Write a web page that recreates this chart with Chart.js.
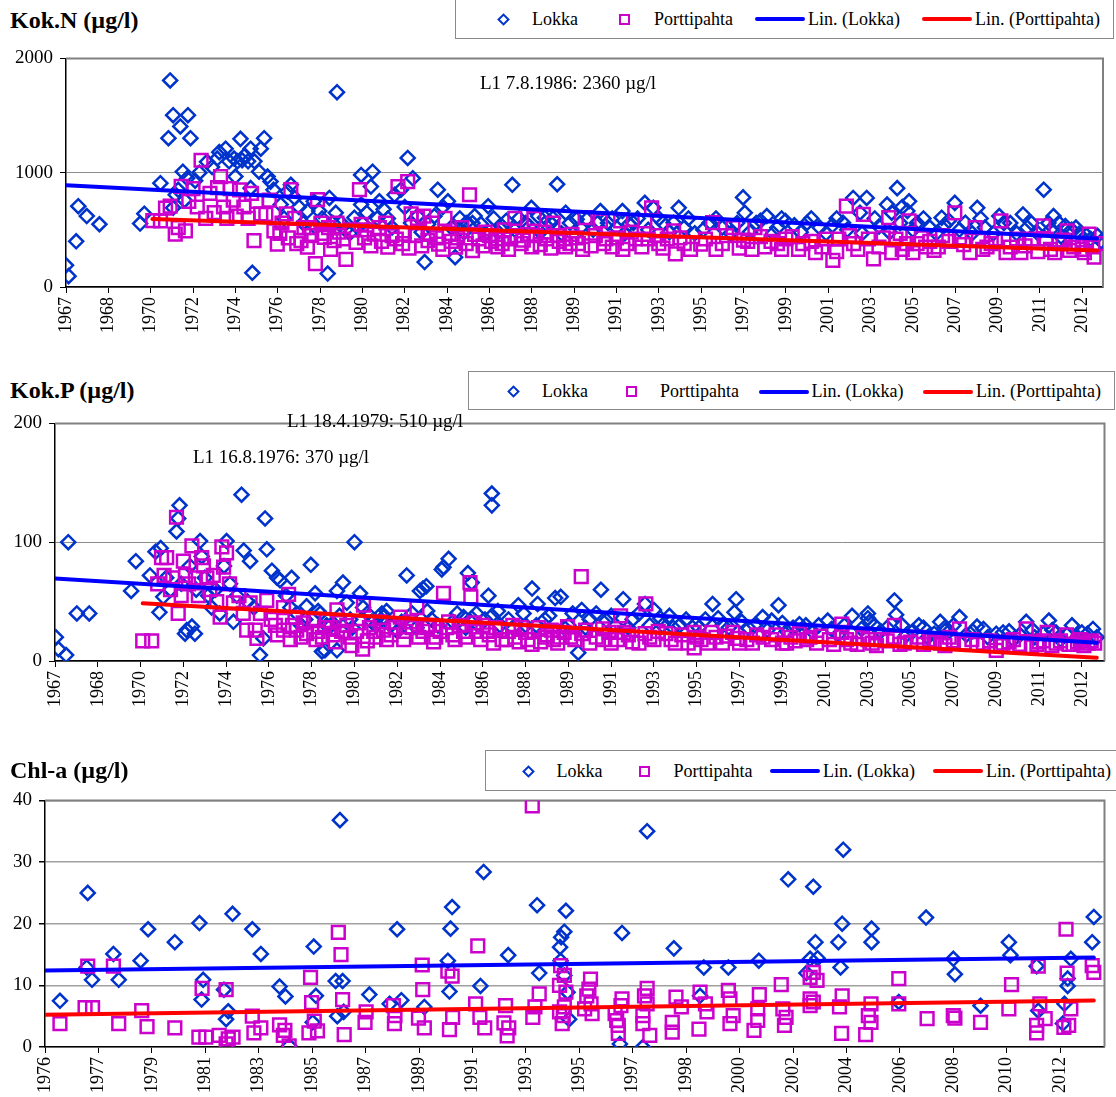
<!DOCTYPE html>
<html>
<head>
<meta charset="utf-8">
<script src="https://cdn.jsdelivr.net/npm/chart.js@4.4.1/dist/chart.umd.min.js"></script>
<style>
body { margin: 0; background: #fff; }
#page { position: relative; width: 1116px; height: 1097px; overflow: hidden; font-family: "Liberation Serif", "Times New Roman", serif; color: #000; }
canvas { position: absolute; left: 0; }
.title { position: absolute; left: 10px; font-weight: bold; font-size: 24px; line-height: 24px; white-space: nowrap; z-index: 3; }
.legend { position: absolute; border: 1px solid #8a8a8a; background: #fff; font-size: 18px; z-index: 3; }
.legend .txt { position: absolute; top: 50%; transform: translateY(-52%); white-space: nowrap; line-height: 18px; }
.legend .mk { position: absolute; box-sizing: border-box; }
.note { position: absolute; font-size: 19px; line-height: 19px; white-space: nowrap; z-index: 2; }
</style>
</head>
<body>
<div id="page">
  <div class="title" style="top:8px">Kok.N (µg/l)</div>
  <div class="legend" id="legN" style="left:455px;top:-1px;width:657px;height:38px"></div>
  <div class="note" style="left:480px;top:73px">L1 7.8.1986: 2360 µg/l</div>
  <canvas id="chartN" width="1116" height="305" style="top:40px"></canvas>

  <div class="title" style="top:378px">Kok.P (µg/l)</div>
  <div class="legend" id="legP" style="left:468px;top:371px;width:645px;height:37px"></div>
  <div class="note" style="left:287px;top:411px">L1 18.4.1979: 510 µg/l</div>
  <div class="note" style="left:193px;top:447px">L1 16.8.1976: 370 µg/l</div>
  <canvas id="chartP" width="1116" height="315" style="top:405px"></canvas>

  <div class="title" style="top:758px">Chl-a (µg/l)</div>
  <div class="legend" id="legC" style="left:485px;top:750px;width:640px;height:39px"></div>
  <canvas id="chartC" width="1116" height="315" style="top:782px"></canvas>
</div>
<script>
const FONT = "'Liberation Serif', 'Times New Roman', serif";
Chart.defaults.font.family = FONT;

// sample positions are given in label steps along the x axis
const yearLabels = ['1967', '1968', '1970', '1972', '1974', '1976', '1978', '1980', '1982', '1984', '1986', '1988',
  '1989', '1991', '1993', '1995', '1997', '1999', '2001', '2003', '2005', '2007', '2009', '2011', '2012'];
const chlLabels = ['1976', '1977', '1979', '1981', '1983', '1985', '1987', '1989', '1991', '1993', '1995', '1997',
  '1998', '2000', '2002', '2004', '2006', '2008', '2010', '2012'];

const nLokka = [
  [0, 190], [0.06, 95], [0.24, 400], [0.29, 707], [0.49, 621], [0.79, 549],
  [1.75, 555], [1.85, 641], [2.23, 908], [2.42, 1302], [2.46, 1807], [2.53, 1503], [2.53, 693], [2.59, 807], [2.65, 850],
  [2.70, 1405], [2.76, 1009], [2.8, 760], [2.86, 951], [2.88, 1503], [2.94, 1302],
  [3.05, 930], [3.15, 1000], [3.33, 1095], [3.45, 1050], [3.57, 1124], [3.62, 1180], [3.77, 1210], [3.85, 1100],
  [3.97, 1124], [4.00, 966], [4.05, 1100], [4.12, 1296], [4.16, 1109], [4.22, 1150], [4.3, 1100], [4.36, 1210],
  [4.36, 865], [4.4, 124], [4.45, 1100], [4.56, 1009], [4.6, 1210], [4.68, 1302], [4.76, 966], [4.83, 922], [4.9, 850],
  [5.07, 721], [5.23, 836], [5.31, 894], [5.4, 780], [5.5, 700], [5.70, 664], [5.85, 750], [5.98, 664], [6.05, 600],
  [6.18, 118], [6.22, 779], [6.37, 649], [6.40, 1704], [6.5, 560], [6.6, 500], [6.81, 606], [6.97, 980], [6.97, 721],
  [7.1, 650], [7.20, 879], [7.24, 1009], [7.40, 750], [7.5, 680], [7.6, 600], [7.76, 807], [7.91, 851], [8.0, 700],
  [8.07, 1129], [8.19, 951], [8.3, 620], [8.47, 218], [8.55, 550], [8.78, 851], [8.9, 700], [9.02, 750], [9.19, 261],
  [9.3, 600], [9.45, 560], [9.65, 621], [9.8, 550], [9.97, 707], [10.1, 600], [10.3, 530], [10.45, 2360], [10.54, 894],
  [10.7, 600], [10.85, 560], [10.99, 693], [11.15, 620], [11.31, 606], [11.45, 560], [11.60, 899], [11.8, 650],
  [11.9, 560], [12.06, 592], [12.30, 592], [12.45, 500], [12.62, 664], [12.8, 560], [13.0, 520], [13.14, 664],
  [13.3, 550], [13.5, 600], [13.67, 736], [13.87, 693], [14.1, 560], [14.35, 563], [14.47, 693], [14.6, 520],
  [15.2, 560], [15.5, 520], [15.99, 784], [16.03, 649], [16.3, 560], [16.55, 621], [16.8, 520], [16.99, 578],
  [17.2, 540], [17.5, 560], [17.8, 520], [18.1, 540], [18.35, 563], [18.59, 779], [18.75, 650], [18.91, 779],
  [19.1, 600], [19.39, 721], [19.5, 650], [19.63, 865], [19.75, 700], [19.87, 664], [19.91, 750], [20.1, 560],
  [20.4, 520], [20.68, 606], [20.85, 580], [20.99, 736], [21.24, 563], [21.52, 693], [21.7, 520], [22.04, 621],
  [22.3, 560], [22.60, 635], [22.8, 560], [23.09, 851], [23.2, 560], [23.32, 621], [23.45, 560], [23.60, 534],
  [23.75, 500], [23.92, 463], [24.1, 450], [24.36, 448], [24.45, 400],
  [5.15, 600], [5.6, 560], [5.9, 520], [6.3, 560], [6.7, 470], [7.0, 560], [7.35, 600], [7.7, 520], [8.15, 560],
  [8.4, 480], [8.7, 620], [9.1, 520], [9.4, 480], [9.6, 560], [9.9, 470], [10.2, 480], [10.4, 580], [10.6, 500],
  [10.95, 530], [11.2, 480], [11.5, 600], [11.7, 470], [12.15, 520], [12.55, 560], [12.9, 600], [13.2, 470],
  [13.4, 560], [13.75, 500], [14.0, 600], [14.25, 480], [14.7, 600], [14.85, 470], [15.05, 500], [15.35, 600],
  [15.7, 470], [15.85, 560], [16.15, 480], [16.4, 580], [16.7, 470], [16.9, 600], [17.35, 480], [17.6, 600],
  [17.95, 470], [18.2, 600], [18.45, 500], [18.8, 470], [19.2, 530], [19.45, 480], [19.7, 560], [20.0, 500],
  [20.25, 600], [20.55, 470], [20.75, 540], [21.1, 500], [21.4, 470], [21.6, 600], [21.9, 470], [22.15, 560],
  [22.45, 470], [22.7, 520], [22.95, 470], [23.25, 500], [23.5, 440], [23.85, 520], [24.2, 420]
];
const nPorttipahta = [
  [2.05, 580], [2.23, 578], [2.35, 690], [2.46, 707], [2.58, 463], [2.65, 520], [2.72, 880], [2.82, 491], [2.9, 750],
  [3.0, 860], [3.1, 700], [3.19, 1109], [3.3, 600], [3.4, 820], [3.5, 650], [3.58, 870], [3.65, 966], [3.72, 700],
  [3.8, 600], [3.88, 860], [3.95, 760], [4.02, 620], [4.1, 850], [4.2, 700], [4.3, 600], [4.38, 820], [4.44, 405],
  [4.5, 750], [4.6, 640], [4.72, 635], [4.8, 760], [4.91, 491], [4.99, 376], [5.1, 560], [5.2, 640], [5.31, 851],
  [5.4, 600], [5.55, 405], [5.62, 520], [5.70, 348], [5.8, 450], [5.89, 204], [5.94, 764], [6.02, 560], [6.10, 434],
  [6.2, 520], [6.33, 405], [6.45, 480], [6.61, 241], [6.75, 500], [6.93, 851], [6.97, 549], [7.1, 500], [7.28, 463],
  [7.4, 520], [7.60, 348], [7.7, 450], [7.84, 879], [7.99, 463], [8.07, 922], [8.15, 640], [8.3, 600], [8.45, 620],
  [8.55, 405], [8.65, 560], [8.8, 376], [8.95, 600], [9.1, 400], [9.2, 348], [9.35, 520], [9.53, 807], [9.6, 319],
  [9.75, 420], [9.9, 480], [10.05, 400], [10.2, 350], [10.35, 500], [10.5, 420], [10.6, 600], [10.75, 380],
  [10.9, 460], [11.05, 600], [11.2, 370], [11.35, 420], [11.5, 560], [11.65, 400], [11.8, 350], [11.95, 460],
  [12.1, 380], [12.26, 606], [12.4, 360], [12.62, 578], [12.75, 420], [12.9, 350], [13.10, 578], [13.25, 380],
  [13.45, 420], [13.67, 578], [13.83, 693], [14.0, 380], [14.2, 420], [14.35, 491], [14.39, 290], [14.6, 380],
  [14.99, 376], [15.27, 563], [15.5, 380], [15.75, 520], [15.9, 340], [16.1, 400], [16.27, 520], [16.5, 350],
  [16.8, 380], [17.0, 420], [17.3, 330], [17.6, 400], [17.85, 350], [18.11, 233], [18.25, 420], [18.43, 707],
  [18.6, 380], [18.83, 635], [19.07, 247], [19.2, 350], [19.43, 606], [19.6, 420], [19.75, 330], [19.91, 578],
  [20.1, 380], [20.3, 350], [20.5, 320], [20.7, 450], [20.99, 649], [21.2, 370], [21.47, 520], [21.65, 330],
  [21.85, 380], [22.08, 578], [22.3, 350], [22.55, 300], [22.8, 420], [23.08, 534], [23.25, 330], [23.45, 380],
  [23.64, 491], [23.8, 350], [24.0, 330], [24.16, 463], [24.28, 261], [24.4, 380],
  [5.05, 470], [5.25, 430], [5.45, 380], [5.75, 520], [6.05, 470], [6.25, 330], [6.4, 560], [6.55, 420], [6.85, 390],
  [7.05, 430], [7.2, 360], [7.45, 400], [7.55, 560], [7.8, 420], [7.95, 380], [8.1, 340], [8.25, 450], [8.4, 360],
  [8.6, 460], [8.75, 430], [8.9, 330], [9.05, 470], [9.25, 430], [9.45, 380], [9.65, 460], [9.85, 360], [10.0, 450],
  [10.15, 420], [10.3, 380], [10.45, 330], [10.65, 450], [10.8, 410], [11.0, 350], [11.1, 450], [11.3, 480],
  [11.45, 340], [11.6, 450], [11.75, 420], [11.9, 380], [12.05, 430], [12.2, 330], [12.5, 450], [12.7, 380],
  [13.0, 430], [13.15, 330], [13.35, 480], [13.6, 350], [13.75, 420], [13.95, 450], [14.1, 340], [14.5, 430],
  [14.75, 330], [15.1, 420], [15.35, 330], [15.6, 450], [16.0, 410], [16.2, 330], [16.4, 440], [16.65, 400],
  [16.9, 330], [17.15, 440], [17.4, 380], [17.7, 300], [17.95, 420], [18.2, 310], [18.5, 450], [18.7, 330],
  [18.95, 420], [19.3, 430], [19.5, 300], [19.7, 470], [19.85, 380], [20.0, 300], [20.2, 430], [20.4, 400],
  [20.6, 350], [20.85, 400], [21.1, 430], [21.35, 300], [21.55, 420], [21.75, 350], [21.95, 420], [22.2, 300],
  [22.45, 420], [22.65, 360], [22.95, 310], [23.15, 420], [23.35, 300], [23.55, 410], [23.7, 320], [23.9, 380],
  [24.05, 300], [24.25, 350]
];
const nTrendLokka = [[0, 890], [24.35, 425]];
const nTrendPorttipahta = [[2.04, 595], [24.35, 320]];

const pLokka = [
  [0.02, 20], [0.08, 10], [0.26, 5], [0.31, 100], [0.51, 40], [0.80, 40],
  [1.78, 59], [1.89, 84], [2.22, 72], [2.35, 92], [2.44, 41], [2.47, 95], [2.53, 54], [2.6, 70], [2.7, 60],
  [2.84, 109], [2.88, 120], [2.91, 131], [2.95, 65], [3.04, 23], [3.08, 26], [3.15, 80], [3.20, 29], [3.27, 23],
  [3.3, 60], [3.39, 101], [3.43, 88], [3.5, 70], [3.58, 55], [3.66, 45], [3.75, 60], [3.85, 40], [3.95, 80],
  [4.01, 101], [4.09, 65], [4.17, 33], [4.25, 55], [4.36, 140], [4.41, 93], [4.5, 50], [4.56, 84], [4.65, 45],
  [4.79, 5], [4.87, 19], [4.91, 120], [4.95, 94], [5.07, 76], [5.19, 70], [5.26, 68], [5.3, 370], [5.4, 55],
  [5.53, 70], [5.65, 40], [5.75, 30], [5.88, 46], [5.98, 81], [6.08, 57], [6.2, 40], [6.24, 8], [6.31, 9],
  [6.4, 510], [6.45, 30], [6.59, 9], [6.59, 59], [6.73, 66], [6.82, 49], [6.9, 35], [7.0, 100], [7.13, 57], [7.3, 40],
  [7.5, 30], [7.64, 40], [7.68, 37], [7.85, 30], [8.0, 25], [8.22, 72], [8.35, 40], [8.53, 59], [8.60, 61],
  [8.68, 63], [8.8, 35], [8.95, 30], [9.04, 77], [9.08, 79], [9.20, 86], [9.4, 40], [9.55, 37], [9.65, 74],
  [9.74, 66], [9.74, 36], [9.9, 30], [10.13, 55], [10.21, 141], [10.21, 131], [10.21, 38], [10.4, 30], [10.6, 35],
  [10.83, 47], [11.0, 30], [11.15, 61], [11.28, 48], [11.45, 35], [11.69, 53], [11.82, 54], [12.0, 30], [12.23, 7],
  [12.31, 43], [12.5, 35], [12.76, 60], [12.89, 34], [13.1, 30], [13.28, 52], [13.5, 35], [13.79, 48], [14.0, 43],
  [14.2, 30], [14.36, 38], [14.6, 30], [14.9, 28], [15.2, 35], [15.37, 48], [15.6, 30], [15.88, 41], [15.92, 52],
  [16.2, 28], [16.54, 37], [16.75, 34], [16.91, 47], [17.1, 25], [17.40, 31], [17.7, 25], [18.06, 34], [18.3, 22],
  [18.63, 38], [19.0, 40], [19.0, 36], [19.04, 33], [19.3, 25], [19.62, 51], [19.66, 39], [19.9, 22], [20.19, 30],
  [20.4, 20], [20.69, 33], [20.9, 25], [21.14, 37], [21.3, 22], [21.55, 29], [21.8, 20], [22.16, 24], [22.4, 18],
  [22.70, 33], [22.9, 20], [23.23, 34], [23.31, 26], [23.5, 18], [23.77, 30], [23.9, 20], [24.13, 23], [24.26, 27],
  [5.5, 45], [5.85, 35], [6.15, 42], [6.35, 30], [6.65, 38], [6.95, 28], [7.2, 45], [7.4, 33], [7.75, 42], [8.1, 33],
  [8.45, 28], [8.7, 42], [9.3, 33], [9.6, 28], [9.85, 40], [10.05, 35], [10.35, 42], [10.7, 28], [10.95, 40],
  [11.25, 30], [11.55, 38], [11.9, 28], [12.1, 40], [12.4, 28], [12.65, 40], [13.0, 38], [13.4, 28], [13.65, 40],
  [13.9, 30], [14.15, 36], [14.45, 28], [14.75, 35], [15.05, 28], [15.5, 36], [15.75, 28], [16.05, 33], [16.35, 30],
  [16.65, 26], [17.0, 32], [17.25, 28], [17.55, 30], [17.85, 30], [18.15, 27], [18.45, 30], [18.85, 27], [19.15, 30],
  [19.45, 28], [19.8, 30], [20.05, 25], [20.3, 28], [20.55, 23], [20.8, 28], [21.0, 30], [21.45, 25], [21.7, 27],
  [22.0, 23], [22.3, 25], [22.55, 22], [22.85, 26], [23.1, 23], [23.4, 24], [23.65, 22], [24.0, 24], [24.35, 20]
];
const pPorttipahta = [
  [2.05, 17], [2.26, 17], [2.4, 65], [2.49, 87], [2.55, 72], [2.61, 87], [2.7, 60], [2.75, 70], [2.84, 121],
  [2.88, 40], [2.95, 55], [3.00, 84], [3.05, 72], [3.12, 65], [3.20, 97], [3.28, 70], [3.35, 55], [3.43, 87],
  [3.47, 80], [3.55, 70], [3.62, 60], [3.7, 72], [3.78, 50], [3.86, 37], [3.90, 96], [3.94, 79], [4.01, 91],
  [4.08, 65], [4.17, 49], [4.3, 55], [4.4, 40], [4.48, 26], [4.56, 49], [4.68, 26], [4.72, 19], [4.8, 40],
  [4.95, 51], [5.05, 35], [5.15, 30], [5.34, 45], [5.34, 26], [5.46, 56], [5.55, 30], [5.61, 37], [5.65, 26],
  [5.75, 20], [5.88, 23], [6.04, 34], [6.15, 25], [6.25, 20], [6.35, 34], [6.45, 28], [6.55, 16], [6.59, 43],
  [6.7, 25], [6.82, 30], [6.94, 13], [7.05, 25], [7.19, 10], [7.21, 47], [7.35, 28], [7.5, 20], [7.68, 26],
  [7.85, 22], [8.07, 37], [8.2, 25], [8.35, 28], [8.46, 45], [8.6, 25], [8.75, 30], [8.9, 20], [9.08, 57],
  [9.15, 28], [9.3, 22], [9.45, 30], [9.55, 25], [9.70, 66], [9.72, 54], [9.85, 25], [10.0, 30], [10.15, 22],
  [10.3, 28], [10.45, 18], [10.6, 25], [10.75, 20], [10.9, 28], [11.05, 18], [11.2, 25], [11.35, 16], [11.5, 22],
  [11.65, 18], [11.8, 20], [11.98, 29], [12.15, 18], [12.30, 71], [12.31, 23], [12.5, 15], [12.80, 27], [12.80, 18],
  [13.0, 15], [13.22, 38], [13.30, 24], [13.5, 16], [13.79, 23], [13.81, 48], [14.0, 18], [14.28, 23], [14.5, 15],
  [14.94, 24], [14.94, 11], [15.1, 18], [15.35, 24], [15.6, 15], [15.84, 24], [16.0, 15], [16.17, 18], [16.4, 22],
  [16.75, 18], [17.0, 15], [17.2, 20], [17.40, 23], [17.57, 18], [17.8, 15], [18.1, 18], [18.39, 31], [18.39, 24],
  [18.6, 15], [18.88, 20], [19.1, 15], [19.3, 18], [19.62, 30], [19.62, 20], [19.85, 15], [20.19, 20], [20.44, 18],
  [20.7, 15], [20.9, 20], [21.14, 27], [21.43, 18], [21.7, 15], [22.0, 9], [22.16, 15], [22.4, 18], [22.70, 27],
  [22.82, 12], [23.0, 16], [23.19, 24], [23.4, 15], [23.64, 22], [23.8, 14], [23.97, 18], [24.15, 15], [24.30, 15],
  [5.2, 22], [5.5, 18], [5.8, 32], [6.1, 18], [6.3, 28], [6.5, 22], [6.65, 34], [6.9, 20], [7.1, 32], [7.3, 17],
  [7.45, 25], [7.6, 33], [7.75, 18], [7.95, 28], [8.15, 18], [8.3, 33], [8.5, 20], [8.7, 28], [8.85, 16], [9.0, 25],
  [9.2, 33], [9.35, 18], [9.6, 20], [9.8, 32], [9.95, 18], [10.1, 25], [10.25, 15], [10.4, 26], [10.55, 18],
  [10.7, 30], [10.85, 16], [11.0, 24], [11.15, 14], [11.3, 28], [11.45, 20], [11.6, 26], [11.75, 15], [11.9, 24],
  [12.05, 20], [12.4, 26], [12.65, 20], [12.95, 24], [13.15, 18], [13.4, 22], [13.65, 15], [13.9, 20], [14.1, 25],
  [14.4, 18], [14.65, 22], [14.8, 15], [15.0, 20], [15.25, 15], [15.45, 20], [15.7, 21], [15.95, 19], [16.3, 15],
  [16.55, 20], [16.85, 22], [17.1, 15], [17.3, 17], [17.65, 20], [17.9, 21], [18.2, 14], [18.5, 18], [18.75, 14],
  [19.0, 18], [19.2, 13], [19.45, 17], [19.75, 14], [20.0, 16], [20.3, 14], [20.55, 16], [20.8, 13], [21.0, 17],
  [21.25, 15], [21.55, 14], [21.85, 17], [22.1, 13], [22.3, 16], [22.55, 14], [22.95, 14], [23.1, 17], [23.3, 13],
  [23.5, 17], [23.7, 14], [23.9, 16], [24.05, 13], [24.22, 17]
];
const pTrendLokka = [[0, 69.4], [24.35, 15.3]];
const pTrendPorttipahta = [[2.05, 48.6], [24.35, 2.8]];

const chlLokka = [
  [0.28, 7.5], [0.78, 12.9], [0.80, 25.0], [0.88, 10.9], [1.28, 15.1], [1.38, 10.9], [1.79, 14.0], [1.93, 19.1],
  [2.43, 17.0], [2.89, 20.1], [2.93, 7.7], [2.96, 10.9], [3.35, 9.3], [3.39, 4.5], [3.43, 5.8], [3.51, 21.6],
  [3.88, 19.1], [4.04, 15.1], [4.39, 9.8], [4.50, 8.2], [4.57, 0.2], [5.01, 4.0], [5.03, 16.3], [5.07, 8.3],
  [5.44, 10.7], [5.47, 5.0], [5.52, 36.8], [5.57, 10.7], [5.59, 5.7], [6.07, 8.5], [6.45, 7.0], [6.59, 19.1],
  [6.67, 7.6], [7.10, 6.5], [7.54, 14.0], [7.57, 9.0], [7.59, 19.2], [7.62, 22.7], [8.15, 9.9], [8.21, 28.4],
  [8.67, 14.9], [9.21, 23.0], [9.25, 12.0], [9.64, 16.2], [9.65, 14.0], [9.66, 17.8], [9.72, 18.7], [9.72, 11.6],
  [9.75, 22.1], [9.78, 8.9], [9.81, 4.5], [10.76, 0.5], [10.80, 18.5], [11.19, 0.0], [11.27, 35.0], [11.77, 16.0],
  [12.26, 8.3], [12.33, 12.9], [12.79, 12.9], [13.36, 14.0], [13.91, 27.2], [14.25, 12.0], [14.32, 14.3],
  [14.38, 26.0], [14.42, 17.0], [14.46, 14.4], [14.85, 17.0], [14.89, 12.9], [14.92, 20.0], [14.94, 32.0],
  [15.47, 19.2], [15.47, 17.0], [15.98, 7.3], [16.49, 21.0], [17.0, 14.3], [17.03, 11.8], [17.51, 6.7],
  [18.04, 17.0], [18.07, 14.9], [18.56, 13.1], [18.59, 5.9], [19.05, 3.8], [19.08, 7.0], [19.14, 9.9],
  [19.14, 11.1], [19.2, 14.3], [19.60, 17.0], [19.63, 21.1]
];
const chlPorttipahta = [
  [0.28, 3.8], [0.75, 6.4], [0.80, 13.1], [0.89, 6.4], [1.28, 13.1], [1.38, 3.8], [1.81, 5.9], [1.91, 3.3],
  [2.43, 3.1], [2.88, 1.6], [2.94, 9.5], [3.01, 1.6], [3.26, 1.9], [3.39, 9.3], [3.39, 0.5], [3.43, 1.3], [3.52, 1.6],
  [3.88, 5.0], [3.91, 2.3], [4.04, 3.1], [4.39, 3.6], [4.46, 1.9], [4.49, 2.7], [4.57, 0.2], [4.94, 2.3],
  [4.97, 11.3], [4.99, 7.2], [5.04, 4.2], [5.10, 2.6], [5.49, 18.6], [5.54, 15.0], [5.57, 7.7], [5.60, 2.0],
  [5.99, 4.0], [6.01, 5.7], [6.52, 6.7], [6.54, 3.8], [6.55, 5.1], [6.99, 4.7], [7.06, 13.3], [7.07, 9.3],
  [7.10, 3.1], [7.54, 12.3], [7.57, 2.8], [7.62, 11.5], [7.63, 4.8], [8.06, 7.0], [8.10, 16.4], [8.14, 4.8],
  [8.23, 3.1], [8.59, 3.9], [8.62, 6.7], [8.65, 1.8], [8.68, 3.1], [9.12, 39.1], [9.13, 4.8], [9.17, 6.5],
  [9.25, 8.6], [9.63, 10.0], [9.63, 5.7], [9.65, 13.2], [9.68, 3.8], [9.70, 5.1], [9.72, 11.6], [9.72, 6.5],
  [9.75, 8.9], [10.1, 6.2], [10.14, 8.3], [10.18, 9.4], [10.21, 11.0], [10.22, 7.0], [10.24, 5.4], [10.67, 5.4],
  [10.70, 4.3], [10.73, 3.5], [10.73, 2.2], [10.78, 6.7], [10.80, 7.8], [11.19, 5.1], [11.19, 3.8], [11.22, 8.3],
  [11.27, 9.5], [11.27, 7.0], [11.32, 1.9], [11.74, 4.0], [11.74, 2.4], [11.81, 8.1], [11.91, 6.5], [12.24, 2.9],
  [12.26, 8.9], [12.36, 7.0], [12.39, 5.7], [12.79, 9.2], [12.82, 7.8], [12.82, 3.8], [12.88, 5.1], [13.27, 2.7],
  [13.34, 6.2], [13.34, 4.3], [13.37, 8.5], [13.78, 10.1], [13.81, 6.2], [13.84, 3.5], [13.87, 4.8], [14.32, 11.3],
  [14.32, 7.8], [14.32, 6.7], [14.38, 12.1], [14.38, 7.3], [14.45, 10.8], [14.87, 6.5], [14.91, 2.2], [14.92, 8.3],
  [15.36, 2.0], [15.41, 5.1], [15.46, 7.0], [15.46, 4.0], [15.98, 11.1], [15.98, 7.0], [16.51, 4.6], [17.0, 5.1],
  [17.03, 4.7], [17.51, 4.0], [18.04, 6.2], [18.09, 10.1], [18.56, 3.5], [18.56, 2.3], [18.59, 13.1], [18.62, 7.0],
  [18.72, 4.6], [19.07, 3.2], [19.11, 19.1], [19.13, 12.0], [19.16, 3.5], [19.20, 6.2], [19.60, 13.2], [19.63, 12.1]
];
const chlTrendLokka = [[0, 12.4], [19.63, 14.5]];
const chlTrendPorttipahta = [[0, 5.25], [19.63, 7.55]];

// gray frame along the top and right of the plot area
const framePlugin = {
  id: 'frame',
  beforeDatasetsDraw(chart) {
    const { ctx, chartArea: a } = chart;
    ctx.save();
    ctx.strokeStyle = '#808080';
    ctx.lineWidth = 2;
    ctx.beginPath();
    ctx.moveTo(a.left, a.top);
    ctx.lineTo(a.right, a.top);
    ctx.lineTo(a.right, a.bottom);
    ctx.stroke();
    ctx.restore();
  }
};

function toXY(arr) {
  return arr.map(([x, y]) => ({ x, y }));
}

function makeChart(id, o) {
  return new Chart(document.getElementById(id), {
    type: 'scatter',
    data: {
      datasets: [
        { label: 'Lin. (Lokka)', data: toXY(o.lokkaTrend), showLine: true, borderColor: '#0000ff', borderWidth: 4,
          borderCapStyle: 'round', pointRadius: 0, order: 0 },
        { label: 'Lin. (Porttipahta)', data: toXY(o.porttiTrend), showLine: true, borderColor: '#ff0000', borderWidth: 4,
          borderCapStyle: 'round', pointRadius: 0, order: 0 },
        { label: 'Porttipahta', data: toXY(o.portti), pointStyle: 'rect', pointRadius: 9, borderWidth: 2.5,
          borderColor: '#cc00cc', backgroundColor: 'rgba(0,0,0,0)', order: 1 },
        { label: 'Lokka', data: toXY(o.lokka), pointStyle: 'rectRot', pointRadius: 7, borderWidth: 2.5,
          borderColor: '#0033cc', backgroundColor: 'rgba(0,0,0,0)', order: 2 }
      ]
    },
    options: {
      responsive: false,
      animation: false,
      events: [],
      layout: { padding: { top: o.padTop, right: o.padRight, left: 0, bottom: 0 } },
      plugins: { legend: { display: false }, tooltip: { enabled: false } },
      scales: {
        x: {
          type: 'linear',
          min: 0,
          max: o.xMax,
          afterBuildTicks: s => { s.ticks = o.labels.map((_, i) => ({ value: i })); },
          afterFit: s => { s.height = o.xHeight; },
          ticks: {
            autoSkip: false, minRotation: 90, maxRotation: 90, padding: 4, color: '#000',
            font: { family: FONT, size: 18 },
            callback: v => o.labels[v]
          },
          grid: { drawOnChartArea: false, color: '#000', tickLength: 6 },
          border: { color: '#000', width: 1.5 }
        },
        y: {
          min: 0,
          max: o.yMax,
          afterFit: s => { s.width = o.yWidth; },
          ticks: {
            stepSize: o.yStep, padding: 7, color: '#000', font: { family: FONT, size: 19 },
            callback: v => String(v)
          },
          grid: { color: o.gridColor, lineWidth: o.gridWidth, tickColor: '#000', tickLength: 6 },
          border: { color: '#000', width: 1.5 }
        }
      }
    },
    plugins: [framePlugin]
  });
}

function buildLegend(id, pos) {
  const box = document.getElementById(id);
  const mid = pos.mid;
  const add = (html) => box.insertAdjacentHTML('beforeend', html);
  add(`<div class="mk" style="left:${pos.diamond - 4.5}px;top:${mid - 4.5}px;width:9px;height:9px;border:2px solid #0033cc;transform:rotate(45deg)"></div>`);
  add(`<span class="txt" style="left:${pos.lokka}px">Lokka</span>`);
  add(`<div class="mk" style="left:${pos.square - 5.5}px;top:${mid - 5.5}px;width:11px;height:11px;border:2.5px solid #cc00cc"></div>`);
  add(`<span class="txt" style="left:${pos.portti}px">Porttipahta</span>`);
  add(`<div class="mk" style="left:${pos.blue}px;top:${mid - 2}px;width:50px;height:4px;background:#0000ff;border-radius:2px"></div>`);
  add(`<span class="txt" style="left:${pos.blue + 53}px">Lin. (Lokka)</span>`);
  add(`<div class="mk" style="left:${pos.red}px;top:${mid - 2}px;width:50px;height:4px;background:#ff0000;border-radius:2px"></div>`);
  add(`<span class="txt" style="left:${pos.red + 53}px">Lin. (Porttipahta)</span>`);
}

buildLegend('legN', { mid: 19, diamond: 47, lokka: 76, square: 168, portti: 198, blue: 299, red: 466 });
buildLegend('legP', { mid: 19.5, diamond: 44.5, lokka: 73, square: 162.5, portti: 191, blue: 289.5, red: 454 });
buildLegend('legC', { mid: 20, diamond: 42, lokka: 70.5, square: 158.5, portti: 187.5, blue: 284, red: 447 });

makeChart('chartN', {
  labels: yearLabels, lokka: nLokka, portti: nPorttipahta, lokkaTrend: nTrendLokka, porttiTrend: nTrendPorttipahta,
  xMax: 24.49, yMax: 2000, yStep: 1000, yWidth: 66, xHeight: 58, padTop: 15, padRight: 13,
  gridColor: '#8c8c8c', gridWidth: 1
});
makeChart('chartP', {
  labels: yearLabels, lokka: pLokka, portti: pPorttipahta, lokkaTrend: pTrendLokka, porttiTrend: pTrendPorttipahta,
  xMax: 24.53, yMax: 200, yStep: 100, yWidth: 55, xHeight: 59, padTop: 16, padRight: 10,
  gridColor: '#8c8c8c', gridWidth: 1
});
makeChart('chartC', {
  labels: chlLabels, lokka: chlLokka, portti: chlPorttipahta, lokkaTrend: chlTrendLokka, porttiTrend: chlTrendPorttipahta,
  xMax: 19.83, yMax: 40, yStep: 10, yWidth: 45, xHeight: 50, padTop: 16, padRight: 8,
  gridColor: '#a0a0a0', gridWidth: 1.5
});
</script>
</body>
</html>
